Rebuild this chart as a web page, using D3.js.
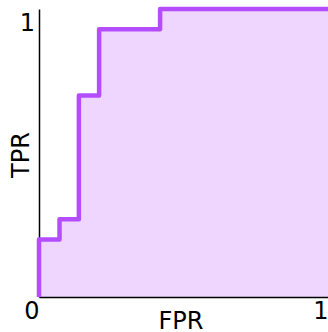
<!DOCTYPE html>
<html>
<head>
<meta charset="utf-8">
<script src="https://cdn.jsdelivr.net/npm/d3@7"></script>
<style>
  html, body { margin: 0; padding: 0; background: #fff; }
  svg { display: block; font-family: "DejaVu Sans", sans-serif; }
</style>
</head>
<body>
<div id="chart"></div>
<script>
// ROC curve corner points (step after)
const fpr = [0, 0, 0.071, 0.138, 0.208, 0.419, 1];
const tpr = [0, 0.2, 0.27, 0.7, 0.93, 1, 1];
const xTicks = [0, 1];
const yTicks = [1];

const width = 328, height = 332;
const margin = { top: 9, right: 0, bottom: 35, left: 39 };
const innerW = width - margin.left - margin.right;
const innerH = height - margin.top - margin.bottom;

const svg = d3.select('#chart')
  .append('svg')
  .attr('width', width)
  .attr('height', height);

const g = svg.append('g')
  .attr('transform', `translate(${margin.left},${margin.top})`);

const x = d3.scaleLinear().domain([0, 1]).range([0, innerW]);
const y = d3.scaleLinear().domain([0, 1]).range([innerH, 0]);

const points = fpr.map((f, i) => [f, tpr[i]]);

// filled area under curve
g.append('path')
  .datum(points)
  .attr('fill', '#eed6ff')
  .attr('d', d3.area()
    .x(d => x(d[0]))
    .y0(y(0))
    .y1(d => y(d[1]))
    .curve(d3.curveStepAfter));

// axes
const xAxis = g.append('g')
  .attr('transform', `translate(0,${innerH})`)
  .call(d3.axisBottom(x).tickValues(xTicks).tickSize(0).tickPadding(0).tickFormat(d3.format('d')));
xAxis.select('.domain').attr('stroke', '#000').attr('stroke-width', 1.5);
xAxis.selectAll('text')
  .attr('text-anchor', 'end')
  .attr('dy', '0.92em')
  .style('font-size', '24px')
  .style('font-family', '"DejaVu Sans", sans-serif')
  .attr('fill', '#000');

const yAxis = g.append('g')
  .call(d3.axisLeft(y).tickValues(yTicks).tickSize(0).tickPadding(4).tickFormat(d3.format('d')));
yAxis.select('.domain').attr('stroke', '#000').attr('stroke-width', 1.5);
yAxis.selectAll('text')
  .attr('dy', '0.875em')
  .style('font-size', '24px')
  .style('font-family', '"DejaVu Sans", sans-serif')
  .attr('fill', '#000');

// curve
g.append('path')
  .datum(points)
  .attr('fill', 'none')
  .attr('stroke', '#b44dff')
  .attr('stroke-width', 4.5)
  .attr('stroke-linejoin', 'round')
  .attr('d', d3.line()
    .x(d => x(d[0]))
    .y(d => y(d[1]))
    .curve(d3.curveStepAfter));

// axis titles
svg.append('text')
  .attr('x', 181)
  .attr('y', 329)
  .attr('text-anchor', 'middle')
  .style('font-size', '24px')
  .text('FPR');

svg.append('text')
  .attr('transform', 'translate(29,155) rotate(-90)')
  .attr('text-anchor', 'middle')
  .style('font-size', '24px')
  .text('TPR');
</script>
</body>
</html>
